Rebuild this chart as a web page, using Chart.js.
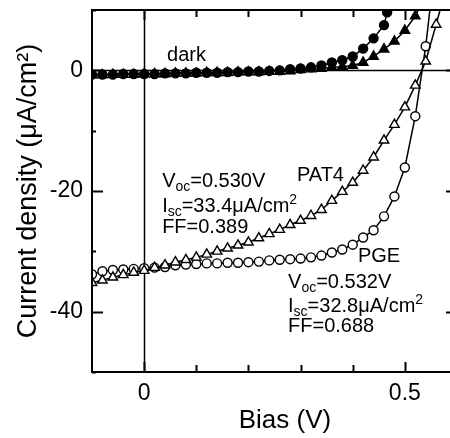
<!DOCTYPE html>
<html>
<head>
<meta charset="utf-8">
<script src="https://cdn.jsdelivr.net/npm/chart.js@4.4.1/dist/chart.umd.min.js"></script>
<style>
    html, body { margin: 0; padding: 0; background: #fff; overflow: hidden; }
    #wrap { width: 470px; height: 438px; }
</style>
</head>
<body>
<div id="wrap"><canvas id="ivChart" width="470" height="438"></canvas></div>
<script>
// Bias (V) and current density (uA/cm2)
var biasDark = [-0.10, -0.08, -0.06, -0.04, -0.02, 0.00, 0.02, 0.04, 0.06, 0.08, 0.10, 0.12, 0.14, 0.16, 0.18, 0.20, 0.22, 0.24, 0.26, 0.28, 0.30, 0.32, 0.34, 0.36, 0.38, 0.40, 0.42, 0.44, 0.46, 0.466, 0.48];
var darkCircleJ = [-0.7, -0.7, -0.7, -0.6, -0.6, -0.6, -0.6, -0.5, -0.5, -0.5, -0.4, -0.4, -0.4, -0.3, -0.3, -0.2, -0.2, -0.1, 0.0, 0.2, 0.3, 0.5, 0.8, 1.3, 1.7, 2.3, 3.6, 5.3, 7.5, 9.6, 13.0];

var biasDarkTri = [-0.10, -0.08, -0.06, -0.04, -0.02, 0.00, 0.02, 0.04, 0.06, 0.08, 0.10, 0.12, 0.14, 0.16, 0.18, 0.20, 0.22, 0.24, 0.26, 0.28, 0.30, 0.32, 0.34, 0.36, 0.38, 0.40, 0.42, 0.44, 0.46, 0.48, 0.50, 0.52, 0.54];
var darkTriJ = [-0.8, -0.8, -0.7, -0.7, -0.7, -0.6, -0.6, -0.6, -0.5, -0.5, -0.5, -0.4, -0.4, -0.4, -0.3, -0.3, -0.3, -0.2, -0.2, -0.1, 0.1, 0.2, 0.3, 0.5, 0.6, 0.8, 1.3, 2.3, 3.5, 4.8, 6.6, 9.0, 12.5];

var biasPAT4 = [-0.10, -0.08, -0.06, -0.04, -0.02, 0.00, 0.02, 0.04, 0.06, 0.08, 0.10, 0.12, 0.14, 0.16, 0.18, 0.20, 0.22, 0.24, 0.26, 0.28, 0.30, 0.32, 0.34, 0.36, 0.38, 0.40, 0.42, 0.44, 0.46, 0.48, 0.50, 0.52, 0.54, 0.56, 0.58];
var pat4J = [-35.2, -34.8, -34.3, -33.9, -33.5, -33.2, -32.7, -32.3, -31.8, -31.4, -31.0, -30.5, -30.0, -29.5, -29.0, -28.5, -27.8, -27.1, -26.4, -25.6, -24.9, -24.1, -23.1, -21.6, -20.1, -18.6, -16.6, -14.4, -11.6, -9.0, -6.1, -2.5, 1.5, 7.6, 14.0];

var biasPGE = [-0.10, -0.08, -0.06, -0.04, -0.02, 0.00, 0.02, 0.04, 0.06, 0.08, 0.10, 0.12, 0.14, 0.16, 0.18, 0.20, 0.22, 0.24, 0.26, 0.28, 0.30, 0.32, 0.34, 0.36, 0.38, 0.40, 0.42, 0.44, 0.46, 0.48, 0.50, 0.52, 0.54, 0.56];
var pgeJ = [-33.8, -33.3, -33.1, -33.0, -32.9, -32.8, -32.7, -32.6, -32.3, -32.2, -32.1, -32.0, -32.0, -31.9, -31.9, -31.8, -31.7, -31.5, -31.4, -31.3, -31.2, -31.0, -30.7, -30.2, -29.7, -28.9, -27.7, -26.5, -24.2, -20.9, -16.1, -7.6, 4.0, 19.0];

var xTickLabels = [0, 0.5];
var yTickLabels = [-40, -20, 0];
var xMinorTicks = [0, 0.1, 0.2, 0.3, 0.4, 0.5, 0.6];
var yMinorTicks = [-50, -40, -30, -20, -10, 0, 10];

// text labels inside the plot, placed at (bias, current density)
var notes = [
    { x: 0.044, y: 1.5, parts: [{ t: 'dark' }] },
    { x: 0.293, y: -18.4, parts: [{ t: 'PAT4' }] },
    { x: 0.0345, y: -19.4, parts: [{ t: 'V' }, { t: 'oc', sub: true }, { t: '=0.530V' }] },
    { x: 0.0345, y: -23.4, parts: [{ t: 'I' }, { t: 'sc', sub: true }, { t: '=33.4\u03bcA/cm' }, { t: '2', sup: true }] },
    { x: 0.0345, y: -26.9, parts: [{ t: 'FF=0.389' }] },
    { x: 0.41, y: -31.7, parts: [{ t: 'PGE' }] },
    { x: 0.276, y: -36.0, parts: [{ t: 'V' }, { t: 'oc', sub: true }, { t: '=0.532V' }] },
    { x: 0.276, y: -40.0, parts: [{ t: 'I' }, { t: 'sc', sub: true }, { t: '=32.8\u03bcA/cm' }, { t: '2', sup: true }] },
    { x: 0.276, y: -43.3, parts: [{ t: 'FF=0.688' }] }
];

var FONT = "'Liberation Sans', Arial, Helvetica, sans-serif";

function toPoints(xs, ys) {
    return xs.map((x, i) => ({ x: x, y: ys[i] }));
}

function series(label, xs, ys, style, radius, fill) {
    return {
        label: label,
        data: toPoints(xs, ys),
        borderColor: '#000',
        borderWidth: 1.5,
        pointStyle: style,
        pointRadius: radius,
        pointBorderWidth: 1.4,
        pointBorderColor: '#000',
        pointBackgroundColor: fill,
        tension: 0
    };
}

// no auto padding from the tick labels, the plot box is fixed
function fixPadding(s) {
    s.paddingTop = 0;
    s.paddingBottom = 0;
    s.paddingLeft = 0;
    s.paddingRight = 0;
}

// frame, inward ticks, zero lines, x title
var framePlugin = {
    id: 'frame',
    beforeDatasetsDraw(chart) {
        var ctx = chart.ctx, a = chart.chartArea;
        var xs = chart.scales.x, ys = chart.scales.y;
        ctx.save();
        ctx.strokeStyle = '#000';
        ctx.lineWidth = 1.5;
        var x0 = Math.round(xs.getPixelForValue(0)) + 0.5;
        var y0 = Math.round(ys.getPixelForValue(0)) + 0.5;
        ctx.beginPath();
        ctx.moveTo(x0, a.top); ctx.lineTo(x0, a.bottom);
        ctx.moveTo(a.left, y0); ctx.lineTo(a.right, y0);
        ctx.stroke();
        ctx.restore();
    },
    afterDatasetsDraw(chart) {
        var ctx = chart.ctx, a = chart.chartArea;
        var xs = chart.scales.x, ys = chart.scales.y;
        ctx.save();
        ctx.strokeStyle = '#000';
        ctx.lineWidth = 2;
        ctx.strokeRect(a.left, a.top, a.right - a.left, a.bottom - a.top);
        ctx.beginPath();
        xMinorTicks.forEach(v => {
            var px = Math.round(xs.getPixelForValue(v)) + 0.5;
            var len = xTickLabels.indexOf(v) >= 0 ? 10 : 7;
            ctx.moveTo(px, a.bottom); ctx.lineTo(px, a.bottom - len);
            ctx.moveTo(px, a.top); ctx.lineTo(px, a.top + len);
        });
        yMinorTicks.forEach(v => {
            var py = Math.round(ys.getPixelForValue(v)) + 0.5;
            var len = yTickLabels.indexOf(v) >= 0 ? 11 : 4;
            ctx.moveTo(a.left, py); ctx.lineTo(a.left + len, py);
            ctx.moveTo(a.right, py); ctx.lineTo(a.right - len, py);
        });
        ctx.stroke();

        // annotations
        ctx.fillStyle = '#000';
        ctx.textBaseline = 'alphabetic';
        ctx.textAlign = 'left';
        notes.forEach(n => {
            var px = xs.getPixelForValue(n.x);
            var py = ys.getPixelForValue(n.y);
            n.parts.forEach(p => {
                var size = (p.sub || p.sup) ? 14 : 20;
                var dy = p.sub ? 4 : (p.sup ? -8 : 0);
                ctx.font = size + 'px ' + FONT;
                ctx.fillText(p.t, px, py + dy);
                px += ctx.measureText(p.t).width;
            });
        });

        // x axis title, sits a little right of the box centre in the original
        ctx.font = '26px ' + FONT;
        ctx.textAlign = 'center';
        ctx.fillText('Bias (V)', xs.getPixelForValue(0.27), 428);
        ctx.restore();
    }
};

var ivChart = new Chart(document.getElementById('ivChart').getContext('2d'), {
    type: 'line',
    data: {
        datasets: [
            series('dark', biasDark, darkCircleJ, 'circle', 4.5, '#000'),
            series('dark', biasDarkTri, darkTriJ, 'triangle', 5.5, '#000'),
            series('PAT4', biasPAT4, pat4J, 'triangle', 5.5, '#fff'),
            series('PGE', biasPGE, pgeJ, 'circle', 4.5, '#fff')
        ]
    },
    options: {
        responsive: false,
        animation: false,
        events: [],
        layout: { padding: { top: 10, right: 13, left: 0, bottom: 0 } },
        plugins: { legend: { display: false }, tooltip: { enabled: false } },
        scales: {
            x: {
                type: 'linear',
                min: -0.1,
                max: 0.6,
                afterFit: s => { s.height = 66; fixPadding(s); },
                afterBuildTicks: s => { s.ticks = xTickLabels.map(v => ({ value: v })); },
                grid: { display: false, drawTicks: false },
                border: { display: false },
                ticks: {
                    color: '#000',
                    padding: 8,
                    maxRotation: 0,
                    font: { family: FONT, size: 23 },
                    callback: v => String(v)
                }
            },
            y: {
                min: -50,
                max: 10,
                afterFit: s => { s.width = 92; fixPadding(s); },
                afterBuildTicks: s => { s.ticks = yTickLabels.map(v => ({ value: v })); },
                grid: { display: false, drawTicks: false },
                border: { display: false },
                ticks: {
                    color: '#000',
                    padding: 9,
                    font: { family: FONT, size: 23 },
                    callback: v => String(v)
                },
                title: {
                    display: true,
                    text: 'Current density (\u03bcA/cm\u00b2)',
                    color: '#000',
                    font: { family: FONT, size: 27 },
                    padding: { top: 12, bottom: 0 }
                }
            }
        }
    },
    plugins: [framePlugin]
});
</script>
</body>
</html>
